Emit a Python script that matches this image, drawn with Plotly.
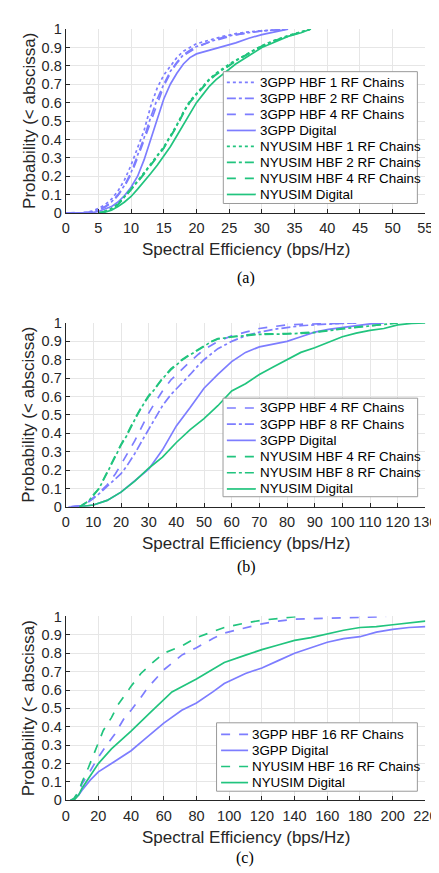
import plotly.graph_objects as go

W, H = 439, 873

# ---------------- Data ----------------
# Panel (a)
a_3gpp_x = [0, 3, 4, 5, 6, 7, 8, 9, 10, 11, 12, 13, 14, 15, 16, 17, 18, 19, 20, 22, 24, 26, 28, 30, 32, 34]
a_3gpp_hbf1 = [0, 0.002, 0.01, 0.025, 0.045, 0.075, 0.12, 0.18, 0.26, 0.35, 0.45, 0.58, 0.68, 0.75, 0.80, 0.845, 0.88, 0.90, 0.92, 0.94, 0.96, 0.975, 0.985, 0.99, 0.995, 1.0]
a_3gpp_hbf2 = [0, 0.001, 0.006, 0.018, 0.035, 0.06, 0.10, 0.15, 0.22, 0.31, 0.41, 0.52, 0.62, 0.70, 0.77, 0.82, 0.86, 0.885, 0.905, 0.93, 0.955, 0.97, 0.98, 0.99, 0.995, 1.0]
a_3gpp_hbf4 = [0, 0.001, 0.005, 0.016, 0.032, 0.055, 0.095, 0.145, 0.21, 0.30, 0.40, 0.50, 0.60, 0.69, 0.76, 0.815, 0.855, 0.88, 0.90, 0.93, 0.95, 0.968, 0.98, 0.99, 0.995, 1.0]
a_3gpp_dig_x = [0, 4, 5, 6, 7, 8, 9, 10, 11, 12, 13, 14, 15, 16, 17, 18, 19, 20, 21, 22, 24, 26, 28, 30, 32, 34]
a_3gpp_dig = [0, 0.002, 0.008, 0.02, 0.035, 0.06, 0.095, 0.14, 0.20, 0.29, 0.40, 0.52, 0.62, 0.70, 0.76, 0.81, 0.845, 0.865, 0.875, 0.885, 0.905, 0.925, 0.95, 0.97, 0.985, 1.0]
a_nyu_x = [5, 6, 7, 8, 9, 10, 11, 12, 13, 14, 15, 16, 17, 18, 19, 20, 21, 22, 23, 24, 25, 26, 28, 30, 32, 34, 36, 37.5]
a_nyu_hbf1 = [0, 0.01, 0.025, 0.05, 0.09, 0.13, 0.175, 0.22, 0.265, 0.31, 0.36, 0.42, 0.48, 0.55, 0.61, 0.65, 0.69, 0.73, 0.76, 0.785, 0.81, 0.83, 0.87, 0.91, 0.94, 0.965, 0.985, 1.0]
a_nyu_hbf2 = [0, 0.009, 0.023, 0.047, 0.087, 0.126, 0.17, 0.215, 0.26, 0.305, 0.355, 0.415, 0.475, 0.545, 0.605, 0.645, 0.685, 0.725, 0.755, 0.78, 0.805, 0.827, 0.868, 0.908, 0.938, 0.963, 0.984, 1.0]
a_nyu_hbf4 = [0, 0.008, 0.022, 0.045, 0.085, 0.124, 0.168, 0.212, 0.257, 0.302, 0.352, 0.412, 0.472, 0.542, 0.602, 0.642, 0.682, 0.722, 0.752, 0.778, 0.803, 0.825, 0.866, 0.906, 0.936, 0.962, 0.983, 1.0]
a_nyu_dig = [0, 0.005, 0.015, 0.035, 0.06, 0.09, 0.13, 0.17, 0.215, 0.26, 0.31, 0.36, 0.42, 0.48, 0.545, 0.60, 0.645, 0.69, 0.725, 0.755, 0.785, 0.81, 0.855, 0.90, 0.93, 0.96, 0.98, 1.0]

# Panel (b)
b_3gpp_hbf_x = [2, 5, 8, 10, 12, 15, 18, 20, 22, 25, 28, 30, 32, 35, 38, 40, 42, 45, 48, 50, 55, 60, 65, 70, 75, 80, 85, 90, 95, 100, 105]
b_3gpp_hbf4 = [0, 0.005, 0.025, 0.05, 0.075, 0.12, 0.18, 0.23, 0.28, 0.36, 0.45, 0.51, 0.56, 0.63, 0.69, 0.72, 0.75, 0.79, 0.83, 0.855, 0.90, 0.93, 0.95, 0.97, 0.98, 0.99, 0.993, 0.995, 0.997, 0.999, 1.0]
b_3gpp_hbf8 = [0, 0.005, 0.025, 0.045, 0.07, 0.11, 0.15, 0.18, 0.22, 0.29, 0.37, 0.42, 0.47, 0.55, 0.61, 0.64, 0.67, 0.72, 0.77, 0.80, 0.86, 0.90, 0.93, 0.95, 0.965, 0.975, 0.985, 0.99, 0.995, 0.998, 1.0]
b_3gpp_dig_x = [1, 5, 8, 10, 15, 20, 25, 30, 35, 40, 45, 50, 55, 60, 65, 70, 75, 80, 85, 90, 95, 100, 105, 110, 115]
b_3gpp_dig = [0, 0.002, 0.006, 0.01, 0.035, 0.08, 0.14, 0.205, 0.31, 0.44, 0.54, 0.645, 0.72, 0.79, 0.84, 0.87, 0.885, 0.90, 0.925, 0.95, 0.965, 0.975, 0.985, 0.995, 1.0]
b_nyu_hbf_x = [5, 8, 10, 12, 15, 18, 20, 22, 25, 28, 30, 32, 35, 38, 40, 42, 45, 48, 50, 52, 55, 60, 65, 70, 80, 90, 100, 110, 120]
b_nyu_hbf4 = [0, 0.03, 0.065, 0.10, 0.19, 0.28, 0.34, 0.39, 0.48, 0.56, 0.605, 0.64, 0.70, 0.75, 0.775, 0.80, 0.83, 0.855, 0.875, 0.895, 0.915, 0.925, 0.935, 0.94, 0.942, 0.95, 0.97, 0.985, 1.0]
b_nyu_hbf8 = [0, 0.028, 0.062, 0.098, 0.185, 0.275, 0.335, 0.385, 0.475, 0.555, 0.60, 0.637, 0.697, 0.745, 0.772, 0.797, 0.827, 0.852, 0.872, 0.893, 0.913, 0.924, 0.933, 0.938, 0.94, 0.948, 0.968, 0.984, 1.0]
b_nyu_dig_x = [5, 8, 10, 15, 20, 25, 30, 35, 40, 45, 50, 55, 60, 65, 70, 75, 80, 85, 90, 95, 100, 105, 110, 115, 120, 125, 130]
b_nyu_dig = [0, 0.005, 0.01, 0.035, 0.08, 0.14, 0.21, 0.27, 0.35, 0.42, 0.48, 0.55, 0.63, 0.67, 0.72, 0.76, 0.80, 0.84, 0.865, 0.895, 0.925, 0.945, 0.96, 0.97, 0.99, 0.998, 1.0]

# Panel (c)
c_3gpp_hbf_x = [3, 5, 8, 10, 15, 20, 25, 30, 36, 40, 46, 50, 60, 71, 80, 90, 97, 110, 120, 130, 140, 160, 180, 196]
c_3gpp_hbf16 = [0, 0.005, 0.04, 0.09, 0.16, 0.235, 0.30, 0.36, 0.45, 0.49, 0.56, 0.61, 0.71, 0.79, 0.83, 0.88, 0.91, 0.94, 0.96, 0.975, 0.985, 0.99, 0.995, 1.0]
c_3gpp_dig_x = [3, 5, 8, 10, 15, 20, 28, 40, 48, 60, 71, 80, 90, 97, 110, 120, 130, 140, 150, 160, 170, 180, 190, 200, 210, 220]
c_3gpp_dig = [0, 0.005, 0.03, 0.055, 0.11, 0.155, 0.20, 0.27, 0.33, 0.42, 0.49, 0.53, 0.59, 0.635, 0.69, 0.72, 0.76, 0.80, 0.83, 0.86, 0.88, 0.89, 0.915, 0.93, 0.94, 0.945]
c_nyu_hbf_x = [3, 5, 8, 10, 14, 20, 23, 28, 32, 40, 46, 52, 60, 71, 80, 97, 110, 120, 130, 142]
c_nyu_hbf16 = [0, 0.01, 0.05, 0.10, 0.18, 0.31, 0.38, 0.45, 0.52, 0.62, 0.69, 0.74, 0.80, 0.84, 0.885, 0.94, 0.965, 0.98, 0.99, 1.0]
c_nyu_dig_x = [5, 8, 10, 15, 20, 28, 40, 52, 60, 65, 80, 97, 110, 120, 130, 140, 150, 160, 170, 180, 190, 200, 210, 220]
c_nyu_dig = [0, 0.03, 0.066, 0.13, 0.20, 0.28, 0.377, 0.48, 0.546, 0.59, 0.66, 0.75, 0.79, 0.82, 0.845, 0.87, 0.885, 0.905, 0.925, 0.94, 0.945, 0.955, 0.965, 0.975]

x_ranges = [(0, 55, 5), (0, 130, 10), (0, 220, 20)]
y_ticks = [i / 10 for i in range(11)]
y_ticktext = ["0", "0.1", "0.2", "0.3", "0.4", "0.5", "0.6", "0.7", "0.8", "0.9", "1"]
captions = ["(a)", "(b)", "(c)"]

# ---------------- Styling ----------------
PURPLE = "#7d7dff"
GREEN = "#21c47e"
AX = "#262626"
SANS = "Liberation Sans, Arial, Helvetica, sans-serif"
SERIF = "Liberation Serif, Times New Roman, serif"
LW = 1.7

# plot-area positions in pixels: (top, bottom)
panel_px = [(13.3, 200.7), (312.7, 500.0), (611.7, 799.0)]
x_left_px, x_right_px = 55.7, 429.0
# legend box: left, right, top, bottom, first-row centre, row step, sample x0, x1, text x
legend_px = [
    (219.3, 420.7, 56.7, 191.0, 67.7, 16.3, 223, 253, 255.5),
    (219.0, 421.0, 389.3, 489.7, 399.3, 16.5, 223, 253, 255.5),
    (212.3, 420.7, 720.0, 789.7, 731.7, 16.4, 217, 245, 247.0),
]
caption_px = [(243, 267), (243, 561.7), (242, 858)]

fig = go.Figure()
legend_entries = [[], [], []]

def add(x, y, name, color, dash, panel):
    sfx = "" if panel == 0 else str(panel + 1)
    fig.add_trace(go.Scatter(
        x=x, y=y, name=name, mode="lines",
        line=dict(color=color, width=LW, dash=dash),
        xaxis="x" + sfx, yaxis="y" + sfx, showlegend=False,
    ))
    legend_entries[panel].append((name, color, dash))

add(a_3gpp_x, a_3gpp_hbf1, "3GPP HBF 1 RF Chains", PURPLE, "dot", 0)
add(a_3gpp_x, a_3gpp_hbf2, "3GPP HBF 2 RF Chains", PURPLE, "dashdot", 0)
add(a_3gpp_x, a_3gpp_hbf4, "3GPP HBF 4 RF Chains", PURPLE, "dash", 0)
add(a_3gpp_dig_x, a_3gpp_dig, "3GPP Digital", PURPLE, "solid", 0)
add(a_nyu_x, a_nyu_hbf1, "NYUSIM HBF 1 RF Chains", GREEN, "dot", 0)
add(a_nyu_x, a_nyu_hbf2, "NYUSIM HBF 2 RF Chains", GREEN, "dashdot", 0)
add(a_nyu_x, a_nyu_hbf4, "NYUSIM HBF 4 RF Chains", GREEN, "dash", 0)
add(a_nyu_x, a_nyu_dig, "NYUSIM Digital", GREEN, "solid", 0)

add(b_3gpp_hbf_x, b_3gpp_hbf4, "3GPP HBF 4 RF Chains", PURPLE, "dash", 1)
add(b_3gpp_hbf_x, b_3gpp_hbf8, "3GPP HBF 8 RF Chains", PURPLE, "dashdot", 1)
add(b_3gpp_dig_x, b_3gpp_dig, "3GPP Digital", PURPLE, "solid", 1)
add(b_nyu_hbf_x, b_nyu_hbf4, "NYUSIM HBF 4 RF Chains", GREEN, "dash", 1)
add(b_nyu_hbf_x, b_nyu_hbf8, "NYUSIM HBF 8 RF Chains", GREEN, "dashdot", 1)
add(b_nyu_dig_x, b_nyu_dig, "NYUSIM Digital", GREEN, "solid", 1)

add(c_3gpp_hbf_x, c_3gpp_hbf16, "3GPP HBF 16 RF Chains", PURPLE, "dash", 2)
add(c_3gpp_dig_x, c_3gpp_dig, "3GPP Digital", PURPLE, "solid", 2)
add(c_nyu_hbf_x, c_nyu_hbf16, "NYUSIM HBF 16 RF Chains", GREEN, "dash", 2)
add(c_nyu_dig_x, c_nyu_dig, "NYUSIM Digital", GREEN, "solid", 2)

layout = dict(
    width=W, height=H, autosize=False,
    margin=dict(l=0, r=0, t=0, b=0),
    paper_bgcolor="white", plot_bgcolor="white",
    font=dict(family=SANS, color=AX),
    showlegend=False,
)

def px(xp):
    return xp / W

def py(yp):
    return 1 - yp / H

annotations = []
shapes = []
xd = [x_left_px / W, x_right_px / W]
for i, (top, bot) in enumerate(panel_px):
    sfx = "" if i == 0 else str(i + 1)
    lo, hi, dt = x_ranges[i]
    common = dict(
        showline=True, linecolor=AX, linewidth=1,
        ticks="inside", ticklen=4, tickcolor=AX, tickwidth=1,
        showgrid=True, gridcolor="#e6e6e6", gridwidth=1,
        zeroline=False, mirror=False,
        tickfont=dict(family=SANS, size=14.5, color=AX),
    )
    layout["xaxis" + sfx] = dict(
        domain=xd, range=[lo, hi], tick0=0, dtick=dt,
        anchor="y" + sfx, ticklabelstandoff=2, **common)
    layout["yaxis" + sfx] = dict(
        domain=[py(bot), py(top)], range=[0, 1],
        tickvals=y_ticks, ticktext=y_ticktext,
        anchor="x" + sfx, **common)

    # legend box drawn with shapes + text annotations
    L, R, T, B, r0, step, s0, s1, tx = legend_px[i]
    shapes.append(dict(type="rect", xref="paper", yref="paper",
                       x0=px(L), x1=px(R), y0=py(B), y1=py(T),
                       fillcolor="white", line=dict(color="#9a9a9a", width=1),
                       layer="above"))
    for k, (name, color, dash) in enumerate(legend_entries[i]):
        yc = r0 + k * step
        shapes.append(dict(type="line", xref="paper", yref="paper",
                           x0=px(s0), x1=px(s1), y0=py(yc), y1=py(yc),
                           line=dict(color=color, width=LW, dash=dash),
                           layer="above"))
        annotations.append(dict(
            text=name, xref="paper", yref="paper", x=px(tx), y=py(yc),
            xanchor="left", yanchor="middle", showarrow=False,
            font=dict(family=SANS, size=13.4, color="black")))

    # axis titles
    annotations.append(dict(
        text="Spectral Efficiency (bps/Hz)", xref="paper", yref="paper",
        x=(x_left_px + x_right_px) / 2 / W, y=py(bot + 37.5),
        xanchor="center", yanchor="middle", showarrow=False,
        font=dict(family=SANS, size=17, color=AX)))
    annotations.append(dict(
        text="Probability (< abscissa)", xref="paper", yref="paper",
        x=17.5 / W, y=py((top + bot) / 2), textangle=-90,
        xanchor="center", yanchor="middle", showarrow=False,
        font=dict(family=SANS, size=17, color=AX)))
    cx, cy = caption_px[i]
    annotations.append(dict(
        text=captions[i], xref="paper", yref="paper",
        x=cx / W, y=py(cy), xanchor="center", yanchor="middle",
        showarrow=False, font=dict(family=SERIF, size=16, color="black")))

layout["annotations"] = annotations
layout["shapes"] = shapes
fig.update_layout(**layout)
fig.write_html("out.html")
